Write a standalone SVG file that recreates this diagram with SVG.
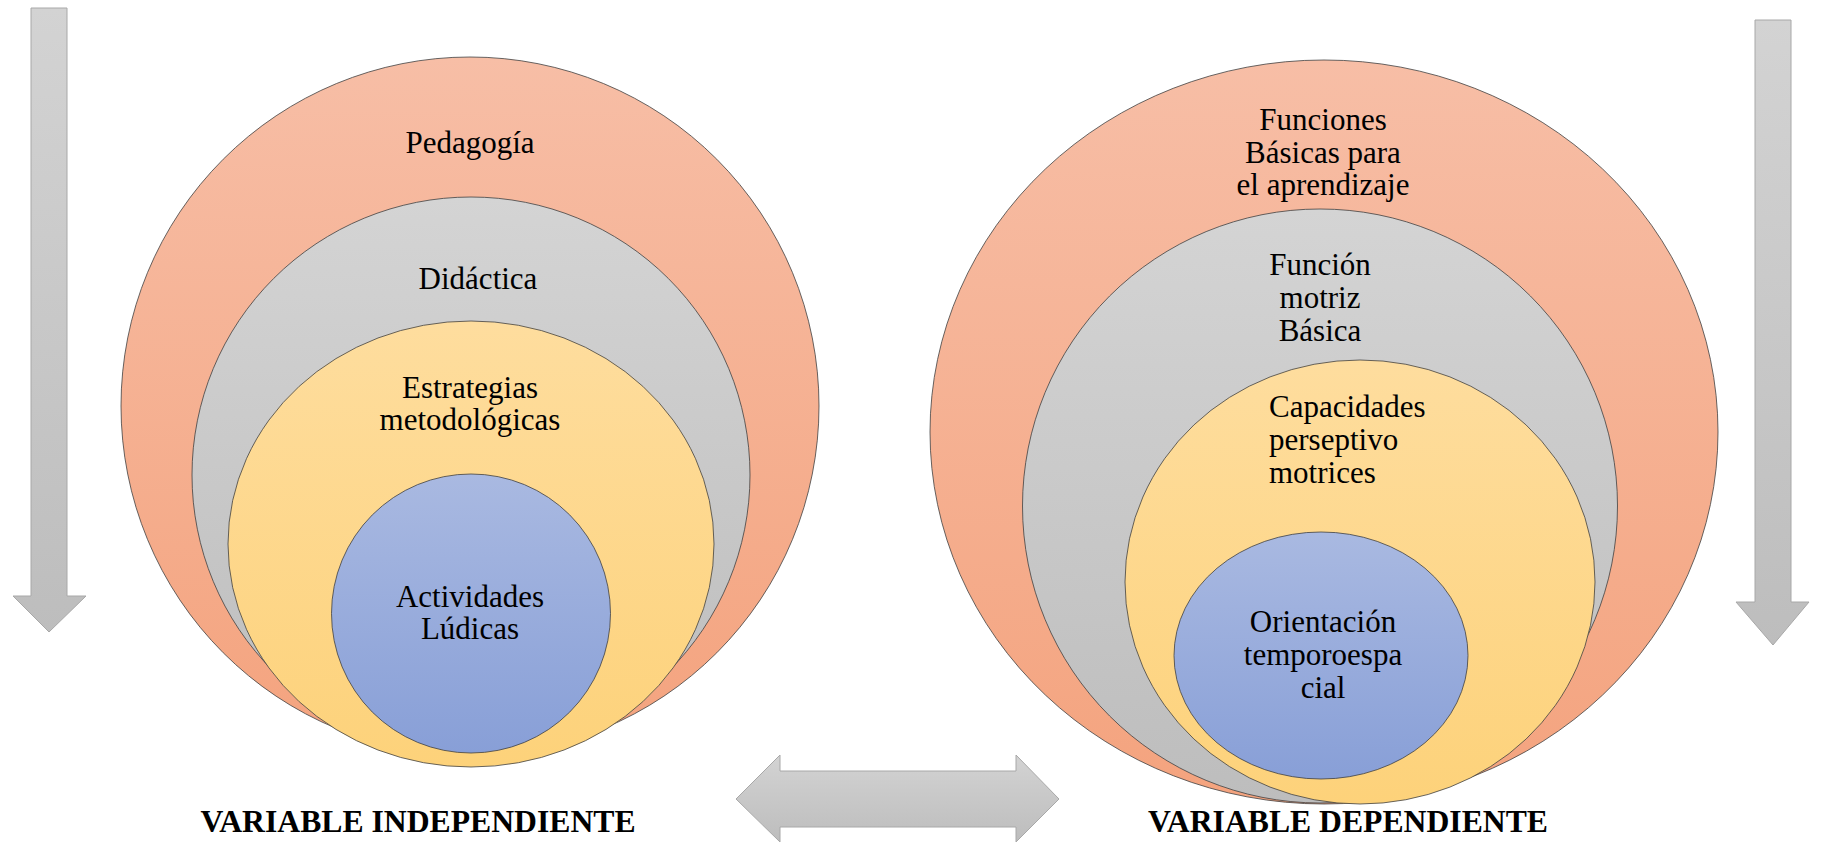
<svg xmlns="http://www.w3.org/2000/svg" width="1822" height="843" viewBox="0 0 1822 843">
<defs>
<linearGradient id="gOr" x1="0" y1="0" x2="0" y2="1"><stop offset="0" stop-color="#f7bea6"/><stop offset="1" stop-color="#f4a37e"/></linearGradient>
<linearGradient id="gGr" x1="0" y1="0" x2="0" y2="1"><stop offset="0" stop-color="#d4d4d4"/><stop offset="1" stop-color="#bdbdbd"/></linearGradient>
<linearGradient id="gYe" x1="0" y1="0" x2="0" y2="1"><stop offset="0" stop-color="#fedd9e"/><stop offset="1" stop-color="#fdd27a"/></linearGradient>
<linearGradient id="gBl" x1="0" y1="0" x2="0" y2="1"><stop offset="0" stop-color="#a9b9e1"/><stop offset="1" stop-color="#889fd7"/></linearGradient>
<linearGradient id="gAr" x1="0" y1="0" x2="0" y2="1"><stop offset="0" stop-color="#d3d3d3"/><stop offset="1" stop-color="#bdbdbd"/></linearGradient>
</defs>
<style>
.c{stroke:#404040;stroke-width:0.8}
.or{fill:url(#gOr)}.gr{fill:url(#gGr)}.ye{fill:url(#gYe)}.bl{fill:url(#gBl)}
.ar{fill:url(#gAr);stroke:#a8a8a8;stroke-width:1}
text{font-family:"Liberation Serif","Times New Roman",serif;font-size:31px;fill:#000}
.m{text-anchor:middle}
.b{font-weight:bold;font-size:31.7px}
</style>
<rect width="1822" height="843" fill="#fff"/>
<g id="left-pedagogia"><ellipse class="c or" cx="470" cy="406" rx="349" ry="349"/><text class="m" x="470" y="153">Pedagogía</text></g>
<g id="left-didactica"><ellipse class="c gr" cx="471" cy="475" rx="279" ry="278"/><text class="m" x="478" y="289">Didáctica</text></g>
<g id="left-estrategias"><ellipse class="c ye" cx="471" cy="544" rx="243" ry="223"/><text class="m" x="470" y="398">Estrategias</text><text class="m" x="470" y="430">metodológicas</text></g>
<g id="left-actividades"><ellipse class="c bl" cx="471" cy="613.5" rx="139.5" ry="139.5"/><text class="m" x="470" y="607">Actividades</text><text class="m" x="470" y="639">Lúdicas</text></g>
<g id="right-funciones"><ellipse class="c or" cx="1324" cy="432" rx="394" ry="372"/><text class="m" x="1323" y="130">Funciones</text><text class="m" x="1323" y="163">Básicas para</text><text class="m" x="1323" y="195">el aprendizaje</text></g>
<g id="right-funcion"><ellipse class="c gr" cx="1320" cy="506" rx="297.5" ry="297"/><text class="m" x="1320" y="275">Función</text><text class="m" x="1320" y="308">motriz</text><text class="m" x="1320" y="341">Básica</text></g>
<g id="right-capacidades"><ellipse class="c ye" cx="1360" cy="582" rx="235" ry="222"/><text x="1269" y="417">Capacidades</text><text x="1269" y="450">perseptivo</text><text x="1269" y="483">motrices</text></g>
<g id="right-orientacion"><ellipse class="c bl" cx="1321" cy="655.5" rx="147" ry="123.5"/><text class="m" x="1323" y="632">Orientación</text><text class="m" x="1323" y="665">temporoespa</text><text class="m" x="1323" y="698">cial</text></g>
<g id="connectors">
<polygon class="ar" points="31,8 67,8 67,596 86,596 49,632 13,596 31,596"/>
<polygon class="ar" points="1755,20 1791,20 1791,602 1809,602 1773,645 1736,602 1755,602"/>
<polygon class="ar" points="736,799 780,755 780,771 1016,771 1016,755 1059,799 1016,842 1016,827 780,827 780,842"/>
</g>
<g id="labels">
<text class="m b" x="418" y="832">VARIABLE INDEPENDIENTE</text>
<text class="m b" x="1348" y="832">VARIABLE DEPENDIENTE</text>
</g>
</svg>
